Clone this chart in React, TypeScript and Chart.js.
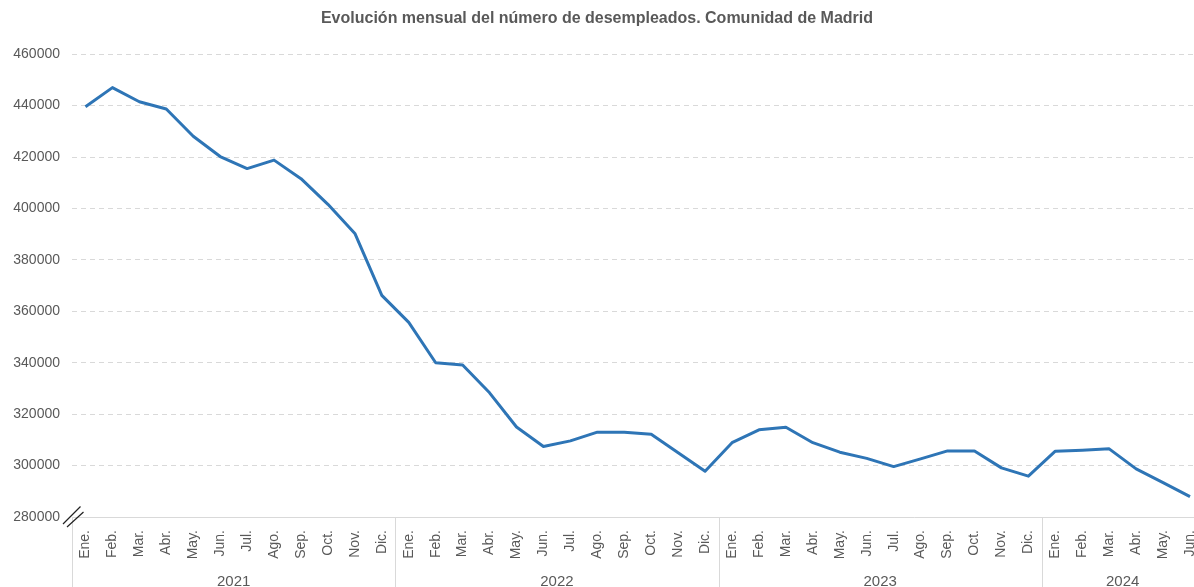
import React, { useEffect, useRef } from 'react';
import { Chart, registerables } from 'chart.js';

Chart.register(...registerables);

const TITLE = 'Evolución mensual del número de desempleados. Comunidad de Madrid';
const MONTHS = ['Ene.', 'Feb.', 'Mar.', 'Abr.', 'May.', 'Jun.', 'Jul.', 'Ago.', 'Sep.', 'Oct.', 'Nov.', 'Dic.'];
const YEARS = ['2021', '2022', '2023', '2024'];
const MONTHS_PER_YEAR = [12, 12, 12, 6];

const VALUES_2021 = [439600, 447000, 441500, 438700, 428100, 420200, 415500, 418800, 411600, 401600, 390300, 366200];
const VALUES_2022 = [355700, 340000, 339100, 328300, 315000, 307400, 309600, 313000, 313000, 312200, 305000, 297800];
const VALUES_2023 = [308900, 313900, 314900, 308900, 305200, 302800, 299600, 302600, 305700, 305700, 299100, 295900];
const VALUES_2024 = [305600, 306000, 306500, 298700, 293400, 287900];

const Y_MIN = 280000;
const Y_MAX = 460000;
const Y_STEP = 20000;

const FONT = '"Liberation Sans", Arial, Helvetica, sans-serif';
const TEXT_COLOR = '#595959';
const GRID_COLOR = '#d9d9d9';
const LINE_COLOR = '#2e75b6';

const LABELS: string[] = [];
YEARS.forEach((_, i) => {
  for (let m = 0; m < MONTHS_PER_YEAR[i]; m++) LABELS.push(MONTHS[m]);
});
const VALUES = [...VALUES_2021, ...VALUES_2022, ...VALUES_2023, ...VALUES_2024];

const yearAxisPlugin = {
  id: 'yearAxis',
  afterDraw(chart: any) {
    const { ctx, chartArea } = chart;
    const xs = chart.scales.x;
    const h = chart.height;
    ctx.save();
    let start = 0;
    YEARS.forEach((yr, i) => {
      const n = MONTHS_PER_YEAR[i];
      const x0 = xs.getPixelForValue(start - 0.5);
      const x1 = xs.getPixelForValue(start + n - 0.5);
      const px = Math.round(x0) + 0.5;
      ctx.strokeStyle = GRID_COLOR;
      ctx.lineWidth = 1;
      ctx.beginPath();
      ctx.moveTo(px, chartArea.bottom);
      ctx.lineTo(px, h);
      ctx.stroke();
      ctx.fillStyle = TEXT_COLOR;
      ctx.font = `15px ${FONT}`;
      ctx.textAlign = 'center';
      ctx.textBaseline = 'alphabetic';
      ctx.fillText(yr, (x0 + x1) / 2, 586);
      start += n;
    });
    // axis break mark
    const bx = chartArea.left;
    const by = chartArea.bottom;
    ctx.strokeStyle = '#222222';
    ctx.lineWidth = 1.2;
    ctx.beginPath();
    ctx.moveTo(bx - 9, by + 7);
    ctx.lineTo(bx + 8.5, by - 10.5);
    ctx.moveTo(bx - 5, by + 10);
    ctx.lineTo(bx + 11.5, by - 5);
    ctx.stroke();
    ctx.restore();
  },
};

export default function App() {
  const ref = useRef<HTMLCanvasElement | null>(null);

  useEffect(() => {
    if (!ref.current) return;
    const chart = new Chart(ref.current, {
      type: 'line',
      data: {
        datasets: [
          {
            data: VALUES.map((v, i) => ({ x: i, y: v })),
            borderColor: LINE_COLOR,
            backgroundColor: LINE_COLOR,
            borderWidth: 3,
            pointRadius: 0,
            tension: 0,
            borderJoinStyle: 'round',
            fill: false,
          },
        ],
      },
      options: {
        animation: false,
        responsive: true,
        maintainAspectRatio: false,
        layout: { padding: 0 },
        plugins: {
          legend: { display: false },
          tooltip: { enabled: false },
          title: {
            display: true,
            text: TITLE,
            color: TEXT_COLOR,
            font: { family: FONT, size: 16, weight: 'bold' },
            padding: { top: 9, bottom: 26 },
          },
        },
        scales: {
          x: {
            type: 'linear',
            min: -0.5,
            max: 41.148,
            afterBuildTicks: (s: any) => {
              s.ticks = LABELS.map((_, i) => ({ value: i }));
            },
            afterFit: (s: any) => {
              s.height = 70;
              s.paddingLeft = 0;
              s.paddingRight = 0;
            },
            grid: { display: false, drawTicks: false },
            border: { display: true, color: GRID_COLOR, width: 1 },
            ticks: {
              autoSkip: false,
              minRotation: 90,
              maxRotation: 90,
              padding: 13,
              color: TEXT_COLOR,
              font: { family: FONT, size: 14 },
              callback: (v: any) => LABELS[v] ?? '',
            },
          },
          y: {
            min: Y_MIN,
            max: Y_MAX,
            afterFit: (s: any) => {
              s.width = 72;
              s.paddingTop = 0;
              s.paddingBottom = 0;
            },
            grid: { color: GRID_COLOR, drawTicks: false, lineWidth: 1 },
            border: { display: false, dash: [5, 4] },
            ticks: {
              stepSize: Y_STEP,
              padding: 12,
              color: TEXT_COLOR,
              font: { family: FONT, size: 14 },
              callback: (v: any) => String(v),
            },
          },
        },
      },
      plugins: [yearAxisPlugin],
    });
    return () => chart.destroy();
  }, []);

  return (
    <div style={{ position: 'absolute', left: 0, top: 0, width: 1194, height: 587 }}>
      <canvas ref={ref} />
    </div>
  );
}
